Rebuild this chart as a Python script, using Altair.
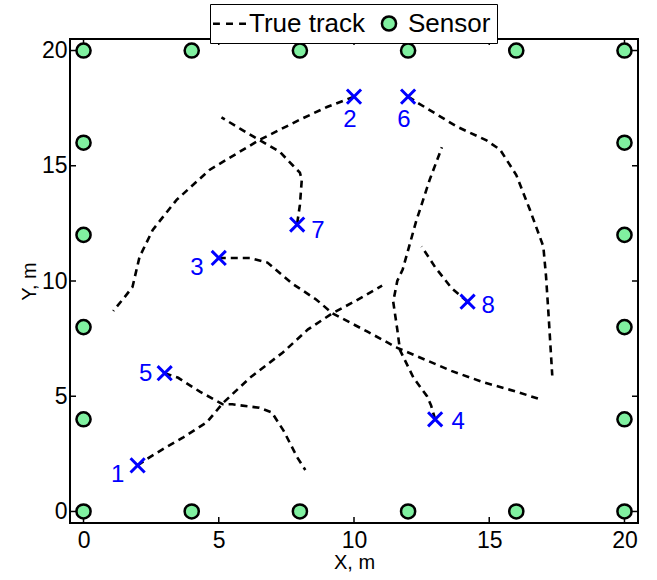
import altair as alt
import pandas as pd

# ---- data ----
track1_x = [2.0, 2.44, 3.0, 3.67, 4.56, 5.15, 6.15, 7.37, 8.3, 9.2, 10.0, 11.04]
track1_y = [2.0, 2.35, 2.75, 3.2, 3.87, 4.7, 5.8, 6.9, 7.9, 8.6, 9.1, 9.8]
track2_x = [10.0, 9.0, 8.0, 6.52, 4.67, 3.44, 2.56, 2.07, 1.81, 1.52, 1.1]
track2_y = [18.0, 17.55, 17.0, 16.13, 14.83, 13.52, 12.22, 11.04, 9.74, 9.3, 8.7]
track3_x = [5.0, 5.5, 6.15, 6.8, 7.7, 8.6, 9.2, 9.85, 10.5, 11.6, 12.2, 13.6, 14.8, 16.0, 16.8]
track3_y = [11.0, 11.0, 11.0, 10.8, 9.9, 9.2, 8.6, 8.2, 7.8, 7.1, 6.8, 6.1, 5.6, 5.2, 4.9]
track4_x = [13.0, 12.85, 12.7, 12.2, 11.7, 11.6, 11.45, 11.6, 11.8, 12.3, 12.8, 13.25]
track4_y = [4.0, 4.6, 5.0, 5.8, 7.0, 7.9, 9.1, 10.0, 10.5, 12.6, 14.4, 15.8]
track5_x = [3.0, 3.5, 4.3, 5.15, 5.5, 6.5, 6.96, 7.4, 7.9, 8.2]
track5_y = [6.0, 5.8, 5.2, 4.65, 4.65, 4.5, 4.3, 3.5, 2.35, 1.8]
track6_x = [12.0, 12.4, 13.8, 14.9, 15.4, 16.0, 16.5, 17.0, 17.1, 17.2, 17.33]
track6_y = [18.0, 17.7, 16.7, 16.1, 15.7, 14.6, 13.1, 11.5, 10.2, 8.4, 5.9]
track7_x = [7.9, 8.0, 8.07, 8.0, 7.75, 7.26, 6.52, 5.8, 5.1]
track7_y = [12.5, 13.3, 14.4, 14.7, 15.0, 15.6, 16.1, 16.6, 17.1]
track8_x = [14.2, 13.6, 13.0, 12.5]
track8_y = [9.1, 9.7, 10.6, 11.5]

start_x = [2.0, 10.0, 5.0, 13.0, 3.0, 12.0, 7.9, 14.2]
start_y = [2.0, 18.0, 11.0, 4.0, 6.0, 18.0, 12.45, 9.1]
target_ids = ["1", "2", "3", "4", "5", "6", "7", "8"]
label_x = [1.26, 9.85, 4.19, 13.85, 2.3, 11.85, 8.67, 14.96]
label_y = [1.6, 17.0, 10.57, 3.87, 5.96, 17.0, 12.17, 8.91]

sensor_x = [0, 4, 8, 12, 16, 20, 0, 4, 8, 12, 16, 20, 0, 0, 0, 0, 20, 20, 20, 20]
sensor_y = [0, 0, 0, 0, 0, 0, 20, 20, 20, 20, 20, 20, 4, 8, 12, 16, 4, 8, 12, 16]

tick_values = [0, 5, 10, 15, 20]
legend_labels = ["True track", "Sensor"]

# ---- tables ----
tracks = [(track1_x, track1_y), (track2_x, track2_y), (track3_x, track3_y),
          (track4_x, track4_y), (track5_x, track5_y), (track6_x, track6_y),
          (track7_x, track7_y), (track8_x, track8_y)]
rows = []
for k, (xs, ys) in enumerate(tracks):
    for i, (a, b) in enumerate(zip(xs, ys)):
        rows.append({"track": k + 1, "i": i, "x": a, "y": b})
track_df = pd.DataFrame(rows)
start_df = pd.DataFrame({"x": start_x, "y": start_y, "id": target_ids,
                         "lx": label_x, "ly": label_y})
sensor_df = pd.DataFrame({"x": sensor_x, "y": sensor_y, "kind": "Sensor"})
tick_df = pd.DataFrame({"v": tick_values})

FONT = "Liberation Sans"
W, H = 568, 484
GREEN = "#80f0a0"
BLUE = "#0000ff"

xscale = alt.Scale(domain=[-0.5, 20.5], nice=False, zero=False)
yscale = alt.Scale(domain=[-0.5, 20.5], nice=False, zero=False)
xaxis = alt.Axis(values=tick_values, title="X, m", grid=False, ticks=False, domain=False,
                 labelFontSize=23, labelFont=FONT, labelColor="black", labelPadding=6,
                 titleFont=FONT, titleFontSize=20, titleFontWeight="normal",
                 titleColor="black", titlePadding=0, labelFlush=False)
yaxis = alt.Axis(values=tick_values, title="Y, m", grid=False, ticks=False, domain=False,
                 labelFontSize=23, labelFont=FONT, labelColor="black", labelPadding=3,
                 titleFont=FONT, titleFontSize=20, titleFontWeight="normal",
                 titleColor="black", titlePadding=2, labelFlush=False)


def X(field):
    return alt.X(field, type="quantitative", scale=xscale, axis=xaxis)


def Y(field):
    return alt.Y(field, type="quantitative", scale=yscale, axis=yaxis)


track_layer = alt.Chart(track_df).mark_line(
    color="black", strokeWidth=2.6, strokeDash=[7, 5]
).encode(x=X("x"), y=Y("y"), detail="track:N", order="i:Q")

tick_style = dict(color="black", strokeWidth=1.5)
ticks_bottom = alt.Chart(tick_df).mark_rule(**tick_style).encode(
    x=X("v"), y=alt.value(H), y2=alt.value(H - 6))
ticks_top = alt.Chart(tick_df).mark_rule(**tick_style).encode(
    x=X("v"), y=alt.value(0), y2=alt.value(6))
ticks_left = alt.Chart(tick_df).mark_rule(**tick_style).encode(
    y=Y("v"), x=alt.value(0), x2=alt.value(6))
ticks_right = alt.Chart(tick_df).mark_rule(**tick_style).encode(
    y=Y("v"), x=alt.value(W), x2=alt.value(W - 6))

legend = alt.Legend(orient="none", legendX=140, legendY=-35, direction="horizontal",
                    title=None, labelFontSize=26, labelFont=FONT, labelColor="black",
                    fillColor="white", strokeColor="black", padding=6,
                    symbolStrokeWidth=2.5, symbolOpacity=1,
                    labelOffset=6, columnPadding=10, labelLimit=400)
dash_path = "M-1.375,0L-0.8,0M-0.29,0L0.29,0M0.8,0L1.375,0"

sensor_layer = alt.Chart(sensor_df).mark_point(
    filled=True, strokeWidth=2.5, opacity=1
).encode(
    x=X("x"), y=Y("y"),
    shape=alt.Shape("kind:N", scale=alt.Scale(domain=legend_labels, range=[dash_path, "circle"]), legend=legend),
    fill=alt.Fill("kind:N", scale=alt.Scale(domain=legend_labels, range=["white", GREEN]), legend=legend),
    stroke=alt.Stroke("kind:N", scale=alt.Scale(domain=legend_labels, range=["black", "black"]), legend=legend),
    size=alt.Size("kind:N", scale=alt.Scale(domain=legend_labels, range=[576, 200]), legend=legend),
)

start_layer = alt.Chart(start_df).mark_point(
    shape="M-1,-1L1,1M-1,1L1,-1", filled=False, stroke=BLUE, strokeWidth=3, size=200, opacity=1
).encode(x=X("x"), y=Y("y"))

label_layer = alt.Chart(start_df).mark_text(
    color=BLUE, fontSize=24, font=FONT, align="center", baseline="middle"
).encode(x=X("lx"), y=Y("ly"), text="id:N")

chart = alt.layer(
    track_layer, ticks_bottom, ticks_top, ticks_left, ticks_right,
    sensor_layer, start_layer, label_layer
).properties(
    width=W, height=H,
    autosize=alt.AutoSizeParams(type="none"),
    padding={"left": 70, "top": 39, "right": 19, "bottom": 57},
    background="white",
).configure_view(stroke="black", strokeWidth=2)

chart.save("out.html", embed_options={"renderer": "svg", "actions": False})
